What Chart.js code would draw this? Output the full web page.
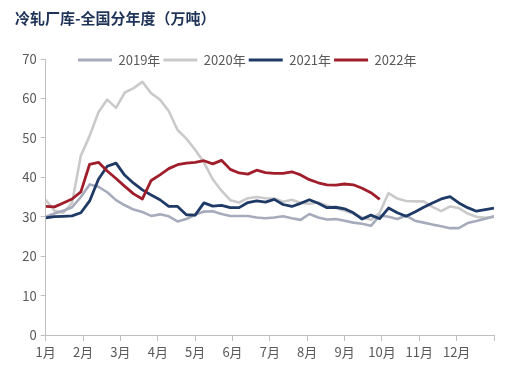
<!DOCTYPE html>
<html>
<head>
<meta charset="utf-8">
<script src="https://cdn.jsdelivr.net/npm/chart.js@4/dist/chart.umd.min.js"></script>
<style>
  html, body { margin: 0; padding: 0; background: #ffffff; }
  #wrap { width: 510px; height: 375px; position: relative; }
</style>
</head>
<body>
<div id="wrap"><canvas id="c" width="510" height="375"></canvas></div>
<script>
// ---- data (weekly) ----
const chartTitle = '冷轧厂库-全国分年度（万吨）';
const monthLabels = ['1月','2月','3月','4月','5月','6月','7月','8月','9月','10月','11月','12月'];
const weeks = [1,2,3,4,5,6,7,8,9,10,11,12,13,14,15,16,17,18,19,20,21,22,23,24,25,26,
               27,28,29,30,31,32,33,34,35,36,37,38,39,40,41,42,43,44,45,46,47,48,49,50,51,52];
const seriesNames = ['2019年','2020年','2021年','2022年'];

const v2019 = [30.0,30.8,31.5,32.4,35.0,38.2,37.6,36.2,34.2,32.9,31.8,31.2,30.2,30.6,30.1,28.8,
               29.4,30.5,31.3,31.4,30.7,30.2,30.2,30.2,29.8,29.6,29.8,30.1,29.6,29.2,30.7,29.8,
               29.3,29.4,29.0,28.5,28.2,27.7,30.3,30.0,29.4,30.3,29.0,28.5,28.0,27.6,27.1,27.1,
               28.4,28.9,29.5,30.1];
const v2020 = [34.3,31.5,31.0,33.5,45.5,50.5,56.5,59.7,57.6,61.5,62.6,64.2,61.3,59.7,56.8,52.0,
               49.8,47.0,43.8,39.5,36.6,34.2,33.6,34.7,35.0,34.7,34.6,33.8,34.3,33.5,33.3,33.6,
               32.8,32.2,31.5,30.8,29.8,29.2,31.0,36.0,34.6,34.0,33.9,33.9,32.5,31.4,32.6,32.2,
               30.8,30.0,29.7,30.0];
const v2021 = [29.7,30.0,30.1,30.2,31.0,34.0,39.5,42.8,43.6,40.5,38.5,36.8,35.5,34.3,32.6,32.6,
               30.5,30.4,33.5,32.7,32.9,32.3,32.3,33.6,34.0,33.7,34.4,33.1,32.6,33.4,34.3,33.4,
               32.3,32.4,32.0,31.0,29.4,30.4,29.5,32.2,31.0,30.1,31.2,32.4,33.5,34.5,35.1,33.5,
               32.3,31.4,31.8,32.2];
const v2022 = [32.6,32.5,33.5,34.5,36.3,43.3,43.8,41.6,39.7,37.7,35.8,34.5,39.2,40.6,42.2,43.2,
               43.6,43.8,44.2,43.4,44.3,42.0,41.1,40.8,41.8,41.2,41.0,41.0,41.4,40.6,39.4,38.6,
               38.1,38.0,38.3,38.1,37.2,36.1,34.4];

// ---- styles ----
const colors = ['#A7ACBC', '#CACACA', '#1F3A66', '#A01E2C'];
const drawOrder = [2, 3, 1, 0]; // red on top, then navy, then grays
const axisColor = '#BFBFBF';
const textColor = '#595959';
const fontFamily = '"Noto Sans CJK SC", "Noto Sans", sans-serif';

const allValues = [v2019, v2020, v2021, v2022];
const datasets = allValues.map((vals, k) => ({
  label: seriesNames[k],
  data: vals.map((y, i) => ({ x: weeks[i], y: y })),
  borderColor: colors[k],
  backgroundColor: colors[k],
  borderWidth: k >= 2 ? 2.8 : 2.6,
  pointRadius: 0,
  pointHoverRadius: 0,
  tension: 0,
  borderJoinStyle: 'round',
  order: drawOrder[k]
}));

// move the (top) legend down so it sits on the top edge of the plot, as in the reference
const legendPlace = {
  id: 'legendPlace',
  afterLayout(chart) {
    const lg = chart.legend;
    if (!lg) return;
    const dy = (chart.chartArea.top - 8.5) - lg.top;
    const dx = 75 - lg.left;
    lg.top += dy; lg.bottom += dy;
    lg.left += dx; lg.right += dx;
  }
};

new Chart(document.getElementById('c'), {
  type: 'line',
  data: { datasets },
  plugins: [legendPlace],
  options: {
    responsive: false,
    animation: false,
    layout: { padding: { left: 15, right: 16, top: 0, bottom: 0 } },
    plugins: {
      tooltip: { enabled: false },
      title: {
        display: true,
        text: chartTitle,
        align: 'start',
        color: '#1F3358',
        font: { family: fontFamily, size: 15, weight: 'bold' },
        padding: { top: 9, bottom: 6 }
      },
      legend: {
        display: true,
        position: 'top',
        align: 'start',
        labels: {
          boxWidth: 34,
          boxHeight: 3,
          padding: 3,
          color: textColor,
          font: { family: fontFamily, size: 13 },
          sort: (a, b) => a.datasetIndex - b.datasetIndex,
          generateLabels(chart) {
            const items = Chart.defaults.plugins.legend.labels.generateLabels(chart);
            items.forEach(it => { it.fillStyle = it.strokeStyle; it.lineWidth = 0; });
            return items;
          }
        }
      }
    },
    scales: {
      x: {
        type: 'linear',
        min: weeks[0],
        max: weeks[weeks.length - 1],
        afterBuildTicks(scale) {
          const span = weeks[weeks.length - 1] - weeks[0];
          const t = [];
          for (let k = 0; k <= monthLabels.length; k++) t.push({ value: weeks[0] + k * span / monthLabels.length });
          scale.ticks = t;
        },
        afterFit(scale) { scale.height = 40; },
        ticks: {
          autoSkip: false,
          maxRotation: 0,
          padding: 3,
          color: textColor,
          font: { family: fontFamily, size: 13 },
          callback: (v, i) => (i < monthLabels.length ? monthLabels[i] : '')
        },
        grid: { display: true, drawOnChartArea: false, drawTicks: true, tickLength: 6, color: axisColor },
        border: { display: true, color: axisColor, width: 1 }
      },
      y: {
        min: 0,
        max: 70,
        afterFit(scale) { scale.width = 30.7; },
        ticks: {
          stepSize: 10,
          padding: 4,
          color: textColor,
          font: { family: fontFamily, size: 13 }
        },
        grid: { display: true, drawOnChartArea: false, drawTicks: true, tickLength: 5, color: axisColor },
        border: { display: true, color: axisColor, width: 1 }
      }
    }
  }
});
</script>
</body>
</html>
